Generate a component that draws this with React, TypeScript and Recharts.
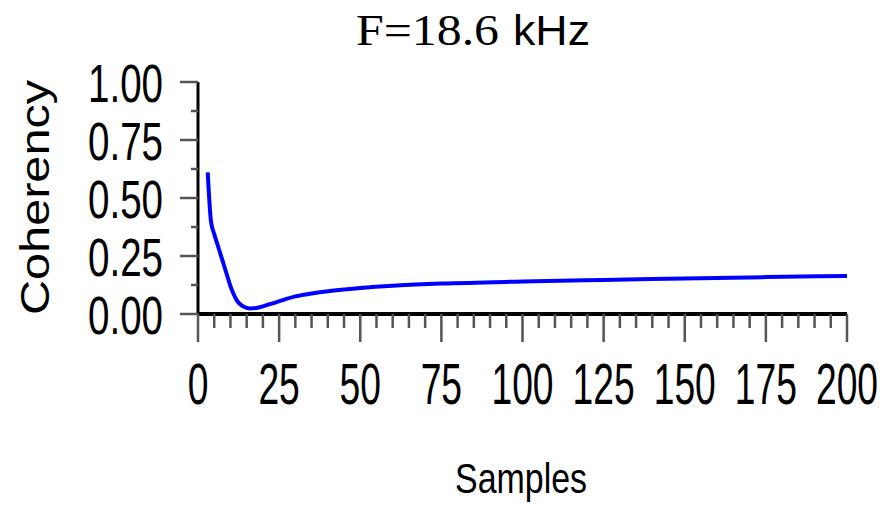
import React from 'react';
import { LineChart, Line, XAxis, YAxis } from 'recharts';

const samples = [3, 4, 5, 6, 7, 8, 9, 10, 11, 12, 13, 14, 16, 18, 20, 22, 24, 27, 30, 35, 40, 50, 60, 75, 100, 125, 150, 175, 200];
const coherency = [0.61, 0.4, 0.345, 0.3, 0.255, 0.21, 0.165, 0.12, 0.085, 0.058, 0.042, 0.032, 0.024, 0.026, 0.033, 0.042, 0.05, 0.064, 0.076, 0.088, 0.098, 0.112, 0.122, 0.131, 0.14, 0.147, 0.153, 0.159, 0.164];

const xTicks = [0, 5, 10, 15, 20, 25, 30, 35, 40, 45, 50, 55, 60, 65, 70, 75, 80, 85, 90, 95, 100, 105, 110, 115, 120, 125, 130, 135, 140, 145, 150, 155, 160, 165, 170, 175, 180, 185, 190, 195, 200];
const yTicks = [0, 0.125, 0.25, 0.375, 0.5, 0.625, 0.75, 0.875, 1];

const data = samples.map((s, i) => ({ s, c: coherency[i] }));

const W = 889;
const H = 506;
const TICK = '#555';
const SANS = '"Liberation Sans", Arial, sans-serif';

function XTick(props: any) {
  const { x, y, payload } = props;
  const v = payload.value as number;
  const major = v % 25 === 0;
  const label = String(v);
  return (
    <g>
      <line x1={x} x2={x} y1={y} y2={y + (major ? 28 : 14)} stroke={TICK} strokeWidth={2.5} />
      {major && (
        <text
          x={x}
          y={404}
          textAnchor="middle"
          fontFamily={SANS}
          fontSize={57}
          fill="#000"
          textLength={label.length * 20.7}
          lengthAdjust="spacingAndGlyphs"
        >
          {label}
        </text>
      )}
    </g>
  );
}

function YTick(props: any) {
  const { x, y, payload } = props;
  const v = payload.value as number;
  const major = Math.abs(v * 4 - Math.round(v * 4)) < 1e-6;
  return (
    <g>
      <line x1={x - (major ? 18 : 7)} x2={x} y1={y} y2={y} stroke={TICK} strokeWidth={2.5} />
      {major && (
        <text
          x={163}
          y={y + 19.5}
          textAnchor="end"
          fontFamily={SANS}
          fontSize={54}
          fill="#000"
          textLength={75}
          lengthAdjust="spacingAndGlyphs"
        >
          {v.toFixed(2)}
        </text>
      )}
    </g>
  );
}

export default function App() {
  return (
    <div style={{ position: 'absolute', left: 0, top: 0, width: W, height: H, background: '#fff' }}>
      <LineChart width={W} height={H} data={data} margin={{ top: 82, right: 42, left: 0, bottom: 0 }}>
        <XAxis
          dataKey="s"
          type="number"
          domain={[0, 200]}
          ticks={xTicks}
          interval={0}
          height={192}
          tickSize={0}
          tickMargin={0}
          tickLine={false}
          tick={<XTick />}
          axisLine={{ stroke: '#000', strokeWidth: 4 }}
        />
        <YAxis
          type="number"
          domain={[0, 1]}
          ticks={yTicks}
          interval={0}
          width={198}
          tickSize={0}
          tickMargin={0}
          tickLine={false}
          tick={<YTick />}
          axisLine={{ stroke: '#000', strokeWidth: 3 }}
        />
        <Line
          type="monotone"
          dataKey="c"
          stroke="#0000ff"
          strokeWidth={4}
          dot={false}
          isAnimationActive={false}
        />
      </LineChart>
      <svg width={W} height={H} style={{ position: 'absolute', left: 0, top: 0, pointerEvents: 'none' }}>
        <text x={356} y={45} fontFamily='"Liberation Serif", "Times New Roman", serif' fontSize={45} fill="#000" textLength={143} lengthAdjust="spacingAndGlyphs">
          F=18.6
        </text>
        <text x={513} y={45} fontFamily={SANS} fontSize={42} fill="#000" textLength={77} lengthAdjust="spacingAndGlyphs">
          kHz
        </text>
        <text x={521} y={493} textAnchor="middle" fontFamily={SANS} fontSize={43} fill="#000" textLength={132} lengthAdjust="spacingAndGlyphs">
          Samples
        </text>
        <text
          x={0}
          y={0}
          transform="translate(49,197.5) rotate(-90)"
          textAnchor="middle"
          fontFamily={SANS}
          fontSize={40}
          fill="#000"
          textLength={235}
          lengthAdjust="spacingAndGlyphs"
        >
          Coherency
        </text>
      </svg>
    </div>
  );
}
